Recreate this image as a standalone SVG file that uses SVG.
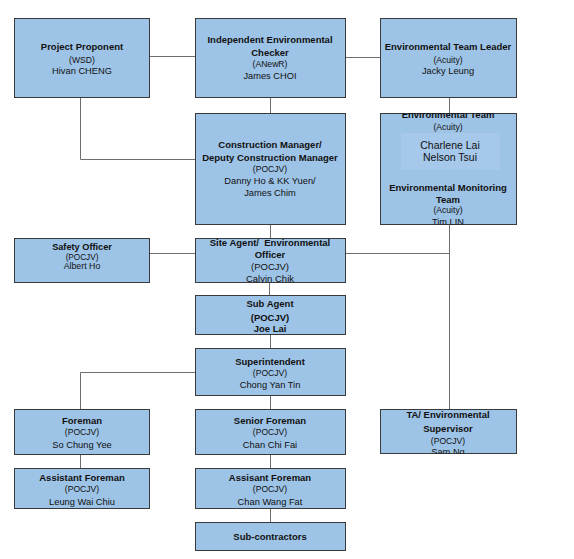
<svg xmlns="http://www.w3.org/2000/svg" width="574" height="559" viewBox="0 0 574 559">
<style>
.box{fill:#9dc3e6;stroke:#3a3a3a;stroke-width:1}
.con{fill:none;stroke:#6e6e6e;stroke-width:1}
text{font-family:"Liberation Sans",Arial,sans-serif;text-anchor:middle;fill:#111}
.b{font-weight:bold;font-size:9.5px}
.s{font-size:8.6px}
.n{font-size:9.3px}
.m{font-size:9.5px}
.big{font-size:10.5px}
.so{font-size:8.2px}
.sn{font-size:8.8px}
</style>
<defs>
<clipPath id="cEnv"><rect x="380" y="113" width="136" height="111.5"/></clipPath>
<clipPath id="cSA"><rect x="195" y="238" width="150" height="44.5"/></clipPath>
<clipPath id="cTA"><rect x="380" y="409" width="136" height="44.5"/></clipPath>
</defs>
<rect width="574" height="559" fill="#fff"/>
<g id="connectors">
<path class="con" d="M149 56.5H195"/>
<path class="con" d="M345 57.5H380"/>
<path class="con" d="M270.5 97V113"/>
<path class="con" d="M449.5 97V113"/>
<path class="con" d="M80.5 97V159.5H195"/>
<path class="con" d="M270.5 224V238"/>
<path class="con" d="M449.5 224V409"/>
<path class="con" d="M149 253.5H195"/>
<path class="con" d="M345 253.5H449.5"/>
<path class="con" d="M269.5 282V295"/>
<path class="con" d="M270.5 334V348"/>
<path class="con" d="M195 372.5H80.5V409"/>
<path class="con" d="M270.5 395V409"/>
<path class="con" d="M80.5 454V468"/>
<path class="con" d="M270.5 454V468"/>
<path class="con" d="M270.5 508V522"/>
</g>
<g id="project-proponent">
<rect class="box" x="14.5" y="18.5" width="135" height="79"/>
<text class="b" x="82" y="50">Project Proponent</text>
<text class="s" x="82" y="62.5">(WSD)</text>
<text class="n" x="82" y="74">Hivan CHENG</text>
</g>
<g id="iec">
<rect class="box" x="195.5" y="18.5" width="150" height="79"/>
<text class="b" x="270" y="43.3">Independent Environmental</text>
<text class="b" x="270" y="56">Checker</text>
<text class="s" x="270" y="67">(ANewR)</text>
<text class="n" x="270" y="79.3">James CHOI</text>
</g>
<g id="etl">
<rect class="box" x="380.5" y="18.5" width="136" height="79"/>
<text class="b" x="448" y="50">Environmental Team Leader</text>
<text class="s" x="448" y="62.5">(Acuity)</text>
<text class="n" x="448" y="74">Jacky Leung</text>
</g>
<g id="env-team">
<rect class="box" x="380.5" y="113.5" width="136" height="111"/>
<rect x="401" y="133" width="99" height="37" fill="#a6c8ea"/>
<g clip-path="url(#cEnv)">
<text class="b" x="448" y="118.3">Environmental Team</text>
<text class="s" x="448" y="130">(Acuity)</text>
<text class="big" x="450" y="149">Charlene Lai</text>
<text class="big" x="450" y="161">Nelson Tsui</text>
<text class="b" x="448" y="190.5">Environmental Monitoring</text>
<text class="b" x="448" y="202.5">Team</text>
<text class="s" x="448" y="213">(Acuity)</text>
<text class="n" x="448" y="225.3">Tim LIN</text>
</g>
</g>
<g id="construction-manager">
<rect class="box" x="195.5" y="113.5" width="150" height="111"/>
<text class="b" x="270" y="147.5">Construction Manager/</text>
<text class="b" x="270" y="160.5">Deputy Construction Manager</text>
<text class="s" x="270" y="172">(POCJV)</text>
<text class="n" x="270" y="184">Danny Ho &amp; KK Yuen/</text>
<text class="n" x="270" y="195.5">James Chim</text>
</g>
<g id="safety-officer">
<rect class="box" x="14.5" y="238.5" width="135" height="44"/>
<text class="b" x="82" y="250.3" style="font-size:9.2px">Safety Officer</text>
<text class="so" x="82" y="259.8">(POCJV)</text>
<text class="sn" x="82" y="268.6">Albert Ho</text>
</g>
<g id="site-agent">
<rect class="box" x="195.5" y="238.5" width="150" height="44"/>
<g clip-path="url(#cSA)">
<text class="b" x="270" y="246" xml:space="preserve">Site Agent/  Environmental</text>
<text class="b" x="270" y="257.7">Officer</text>
<text class="m" x="270" y="269.5">(POCJV)</text>
<text class="m" x="270" y="281.5">Calvin Chik</text>
</g>
</g>
<g id="sub-agent">
<rect class="box" x="195.5" y="295.5" width="150" height="39"/>
<text class="b" x="270" y="306.5">Sub Agent</text>
<text class="b" x="270" y="320.5">(POCJV)</text>
<text class="b" x="270" y="331.5">Joe Lai</text>
</g>
<g id="superintendent">
<rect class="box" x="195.5" y="348.5" width="150" height="47"/>
<text class="b" x="270" y="364.5">Superintendent</text>
<text class="s" x="270" y="376">(POCJV)</text>
<text class="n" x="270" y="387.5">Chong Yan Tin</text>
</g>
<g id="foreman">
<rect class="box" x="14.5" y="409.5" width="135" height="45"/>
<text class="b" x="82" y="423.5">Foreman</text>
<text class="s" x="82" y="435">(POCJV)</text>
<text class="n" x="82" y="447.5">So Chung Yee</text>
</g>
<g id="senior-foreman">
<rect class="box" x="195.5" y="409.5" width="150" height="45"/>
<text class="b" x="270" y="423.5">Senior Foreman</text>
<text class="s" x="270" y="435">(POCJV)</text>
<text class="n" x="270" y="447.5">Chan Chi Fai</text>
</g>
<g id="ta-supervisor">
<rect class="box" x="380.5" y="409.5" width="136" height="44"/>
<g clip-path="url(#cTA)">
<text class="b" x="448" y="417.5">TA/ Environmental</text>
<text class="b" x="448" y="431.5">Supervisor</text>
<text class="s" x="448" y="444">(POCJV)</text>
<text class="n" x="448" y="455.3">Sam Ng</text>
</g>
</g>
<g id="assistant-foreman-1">
<rect class="box" x="14.5" y="468.5" width="135" height="40"/>
<text class="b" x="82" y="480.5">Assistant Foreman</text>
<text class="s" x="82" y="492">(POCJV)</text>
<text class="n" x="82" y="504.5">Leung Wai Chiu</text>
</g>
<g id="assistant-foreman-2">
<rect class="box" x="195.5" y="468.5" width="150" height="40"/>
<text class="b" x="270" y="480.5">Assisant Foreman</text>
<text class="s" x="270" y="492">(POCJV)</text>
<text class="n" x="270" y="504.5">Chan Wang Fat</text>
</g>
<g id="sub-contractors">
<rect class="box" x="195.5" y="522.5" width="150" height="28"/>
<text class="b" x="270" y="539.5">Sub-contractors</text>
</g>
</svg>
